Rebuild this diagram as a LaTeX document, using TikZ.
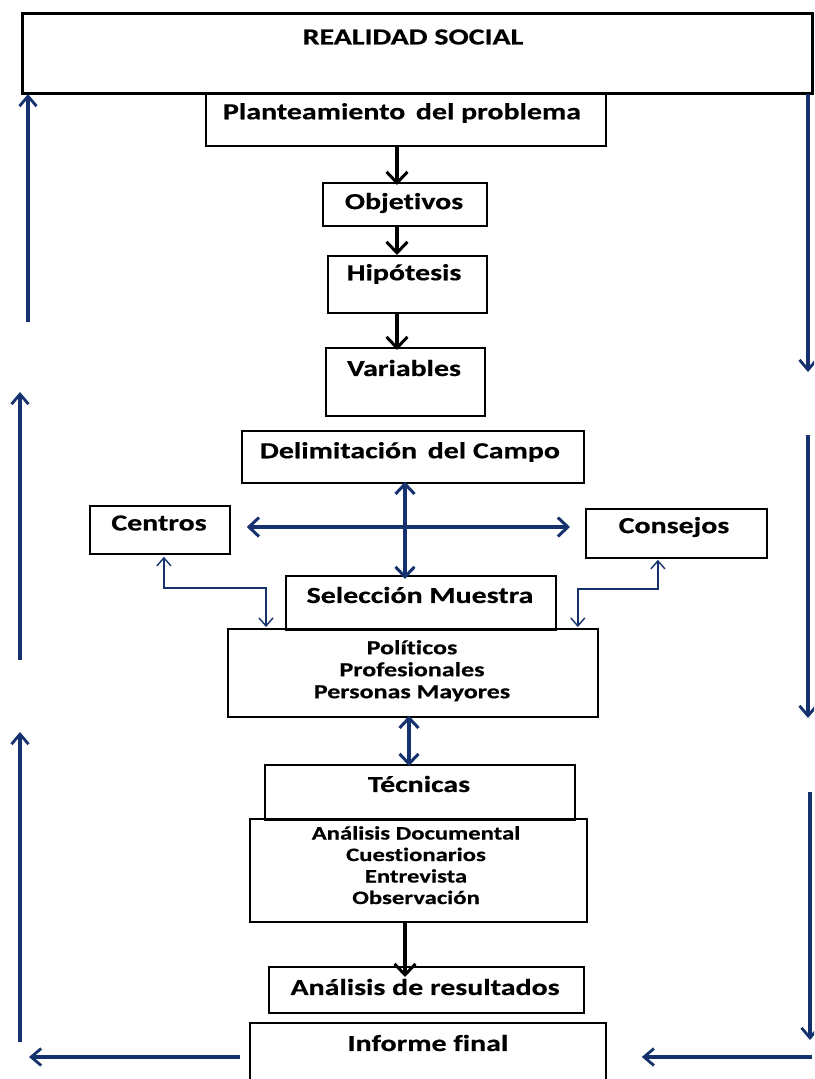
\documentclass[tikz,border=0pt]{standalone}
\usepackage{fontspec}
\setmainfont{Carlito}[FakeStretch=1.3,Ligatures=NoCommon,BoldFeatures={FakeBold=0.5}]
\usetikzlibrary{arrows.meta,calc}
\definecolor{navy}{RGB}{22,50,110}
\begin{document}
\begin{tikzpicture}[x=1pt,y=-1pt,
  box/.style={draw=black,line width=1.8pt,anchor=north west,inner sep=0pt},
  lbl/.style={font=\bfseries\fontsize{23}{27}\selectfont,inner sep=0pt,anchor=center},
  sml/.style={font=\bfseries\fontsize{20}{22}\selectfont,inner sep=0pt,align=center,anchor=north},
  blk/.style={draw=black,line width=3.4pt,-{Straight Barb[length=11pt,width=21pt,line width=3pt]}},
  side/.style={draw=navy,line width=3.2pt,-{Straight Barb[length=10pt,width=17pt,line width=2.8pt]}},
  bdbl/.style={draw=navy,line width=3.4pt,{Straight Barb[length=10pt,width=19pt,line width=3pt]}-{Straight Barb[length=10pt,width=19pt,line width=3pt]}},
  thn/.style={draw=navy,line width=1.4pt,{Straight Barb[length=8pt,width=14pt,line width=1.4pt]}-{Straight Barb[length=8pt,width=14pt,line width=1.4pt]}}]
\useasboundingbox (0,0) rectangle (814,1079);
\clip (0,0) rectangle (814,1079);
\fill[white] (0,0) rectangle (814,1079);

% boxes
\node[box,line width=3pt,minimum width=790,minimum height=80] (real) at (21,12) {};
\node[lbl] at (413,37) {REALIDAD SOCIAL};
\node[box,minimum width=400,minimum height=53] (plan) at (205,92) {};
\node[lbl] at (402,113) {Planteamiento\, del problema};
\node[box,minimum width=164,minimum height=43] (obj) at (322,182) {};
\node[lbl] at (404,203) {Objetivos};
\node[box,minimum width=159,minimum height=57] (hip) at (327,255) {};
\node[lbl] at (404,274) {Hipótesis};
\node[box,minimum width=159,minimum height=68] (var) at (325,347) {};
\node[lbl] at (404,368) {Variables};
\node[box,minimum width=342,minimum height=52] (del) at (241,430) {};
\node[lbl] at (410,452) {Delimitación\, del Campo};
\node[box,minimum width=140,minimum height=48] (cen) at (89,505) {};
\node[lbl] at (159,523) {Centros};
\node[box,minimum width=181,minimum height=49] (con) at (585,508) {};
\node[lbl] at (674,527) {Consejos};
\node[box,minimum width=270,minimum height=54] (sel) at (285,575) {};
\node[lbl] at (420,595) {Selección Muestra};
\node[box,minimum width=370,minimum height=88] (pol) at (227,628) {};
\node[sml] at (412,640) {Políticos\\Profesionales\\Personas Mayores};
\node[box,minimum width=310,minimum height=55] (tec) at (264,764) {};
\node[lbl] at (419,784) {Técnicas};
\node[box,minimum width=337,minimum height=103] (ana) at (249,818) {};
\node[sml,font=\bfseries\fontsize{19}{21.5}\selectfont] at (416,826) {Análisis Documental\\Cuestionarios\\Entrevista\\Observación};
\node[box,minimum width=315,minimum height=46] (res) at (268,966) {};
\node[lbl] at (425,987) {Análisis de resultados};
\node[box,minimum width=356,minimum height=70] (inf) at (249,1022) {};
\node[lbl] at (428,1043) {Informe final};

% reference columns for the central arrows
\coordinate (c1) at (397,0);
\coordinate (c2) at (405,0);
\coordinate (c3) at (409,0);
\coordinate (hy) at (0,527);

% main sequence
\draw[blk] (plan.south -| c1) -- ([yshift=-3]obj.north -| c1);
\draw[blk] (obj.south -| c1) -- (hip.north -| c1);
\draw[blk] (hip.south -| c1) -- ([yshift=-3]var.north -| c1);
\draw[bdbl] ([yshift=2]del.south -| c2) -- ([yshift=-4]sel.north -| c2);
\draw[bdbl] ($(cen.east |- hy)+(16,0)$) -- ($(con.west |- hy)+(-15,0)$);
\draw[bdbl] ([yshift=2]pol.south -| c3) -- ([yshift=-2]tec.north -| c3);
\draw[blk] (ana.south -| c2) -- ([yshift=-11]res.north -| c2);

% thin links from the sample to the side boxes
\draw[thn] ($(pol.north west)+(39,-1)$) -- ++(0,-39) -| ($(cen.south)+(4,2)$);
\draw[thn] ($(pol.north east)+(-21,-1)$) -- ++(0,-38) -| ($(con.south)+(-18.5,1)$);

% feedback loop along the sides
\coordinate (l1a) at (28,322); \coordinate (l1b) at (28,94);
\coordinate (l2a) at (20,660); \coordinate (l2b) at (20,392);
\coordinate (l3a) at (20,1042); \coordinate (l3b) at (20,732);
\coordinate (r1a) at (808,94); \coordinate (r1b) at (808,372);
\coordinate (r2a) at (808,435); \coordinate (r2b) at (808,718);
\coordinate (r3a) at (810,792); \coordinate (r3b) at (810,1040);
\coordinate (lh) at (29,1057); \coordinate (rh) at (812,1057);
\draw[side] (l1a) -- (l1b);
\draw[side] (l2a) -- (l2b);
\draw[side] (l3a) -- (l3b);
\draw[side] (r1a) -- (r1b);
\draw[side] (r2a) -- (r2b);
\draw[side] (r3a) -- (r3b);
\draw[side] ([xshift=-9]inf.west |- lh) -- (lh);
\draw[side] (rh) -- ([xshift=35]inf.east |- rh);
\end{tikzpicture}
\end{document}
